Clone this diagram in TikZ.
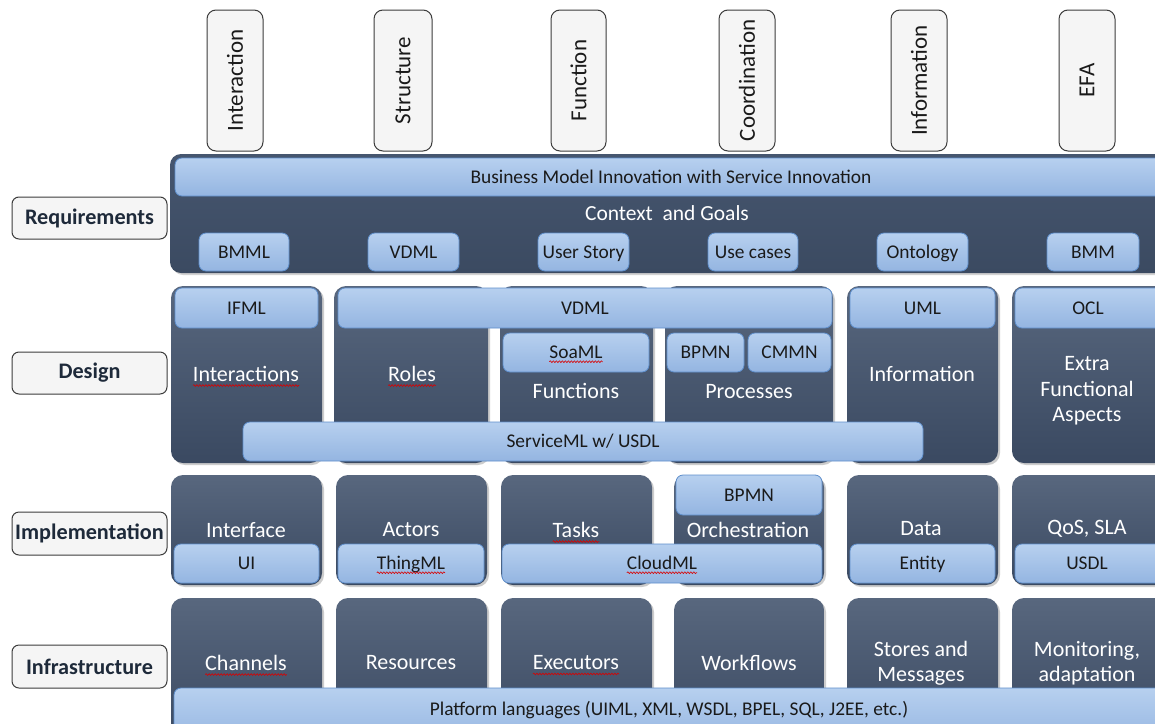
\documentclass[tikz,border=0pt]{standalone}
\usepackage{fontspec}
\setmainfont{Carlito}
\usetikzlibrary{fit,shadows,decorations.pathmorphing}

\definecolor{slateTop}{HTML}{58677E}
\definecolor{slateBot}{HTML}{3A4961}
\definecolor{reqTop}{HTML}{46566F}
\definecolor{reqBot}{HTML}{3B4A61}
\definecolor{blueTop}{HTML}{B7D0EF}
\definecolor{blueBot}{HTML}{94B5E1}
\definecolor{blueEdge}{HTML}{5E8ECB}
\definecolor{tagFill}{HTML}{F5F5F5}
\definecolor{tagEdge}{HTML}{3C3C3C}
\definecolor{inkDark}{HTML}{1A1A1A}
\definecolor{inkNavy}{HTML}{1E2A3A}

\begin{document}
\begin{tikzpicture}[x=1pt,y=-1pt,
  every node/.style={inner sep=0pt, outer sep=0pt},
  coltag/.style={draw=tagEdge, line width=1pt, fill=tagFill, rounded corners=9pt},
  coltext/.style={rotate=90, text=inkDark, font=\fontsize{23}{26}\selectfont},
  layertag/.style={draw=tagEdge, line width=1pt, fill=tagFill, rounded corners=7pt},
  layertext/.style={text=inkNavy, font=\bfseries\fontsize{22.2}{26}\selectfont},
  reqblock/.style={top color=reqTop, bottom color=reqBot, rounded corners=11pt,
    drop shadow={shadow xshift=2pt, shadow yshift=-2pt, opacity=0.35}},
  darkbox/.style={top color=slateTop, bottom color=slateBot, rounded corners=12pt,
    drop shadow={shadow xshift=2pt, shadow yshift=-2pt, opacity=0.4}},
  bluebox/.style={top color=blueTop, bottom color=blueBot, draw=blueEdge, line width=0.8pt,
    rounded corners=7pt},
  btxt/.style={text=inkDark, font=\fontsize{19.4}{22}\selectfont,
    text height=12.4pt, text depth=0pt},
  wtxt/.style={text=white, align=center, font=\fontsize{22}{25.5}\selectfont},
  squig/.style={draw=red!85!black, line width=0.6pt,
    decorate, decoration={snake, amplitude=0.9pt, segment length=3pt}}
]
\clip (0,0) rectangle (1155,723);
\fill[white] (0,0) rectangle (1155,723);

% ---------- column headings ----------
\node[coltag, fit={(207,10)(263,151)}] (cInter) {};
\node[coltext] (tInter) at (cInter.center) {Interaction};
\node[coltag, fit={(374,10)(432,151)}] (cStruct) {};
\node[coltext] (tStruct) at (cStruct.center) {Structure};
\node[coltag, fit={(551,10)(606,151)}] (cFunc) {};
\node[coltext] (tFunc) at (cFunc.center) {Function};
\node[coltag, fit={(719,10)(775,151)}] (cCoord) {};
\node[coltext] (tCoord) at (cCoord.center) {Coordination};
\node[coltag, fit={(891,10)(947,151)}] (cInfo) {};
\node[coltext] (tInfo) at (cInfo.center) {Information};
\node[coltag, fit={(1059,10)(1115,151)}] (cEfa) {};
\node[coltext] (tEfa) at (cEfa.center) {EFA};

% ---------- layer headings ----------
\node[layertag, fit={(12,197)(167,239)}] (lReq) {};
\node[layertext] (tReq) at (lReq.center) {Requirements};
\node[layertag, fit={(12,352)(167,394)}] (lDes) {};
\node[layertext] (tDes) at (lDes.center) {Design};
\node[layertag, fit={(12,512)(167,555)}] (lImp) {};
\node[layertext] (tImp) at (lImp.center) {Implementation};
\node[layertag, fit={(12,645)(167,688)}] (lInf) {};
\node[layertext] (tInf) at (lInf.center) {Infrastructure};

% ---------- requirements layer ----------
\node[reqblock, fit={(170,154)(1180,273)}] (req) {};
\node[bluebox, fit={(175,158)(1180,196)}] (bmi) {};
\node[btxt] (tBmi) at (671,177) {Business Model Innovation with Service Innovation};
\node[wtxt, font=\fontsize{21.5}{25}\selectfont] (tCtx) at (667,213) {Context\ \ and Goals};
\node[bluebox, fit={(199,233)(289,271)}] (rBmml) {};
\node[btxt] (tBmml) at (rBmml.center) {BMML};
\node[bluebox, fit={(368,233)(459,271)}] (rVdml) {};
\node[btxt] (tVdml) at (rVdml.center) {VDML};
\node[bluebox, fit={(538,233)(629,271)}] (rStory) {};
\node[btxt] (tStory) at (rStory.center) {User Story};
\node[bluebox, fit={(708,233)(798,271)}] (rUse) {};
\node[btxt] (tUse) at (rUse.center) {Use cases};
\node[bluebox, fit={(877,233)(968,271)}] (rOnto) {};
\node[btxt] (tOnto) at (rOnto.center) {Ontology};
\node[bluebox, fit={(1047,233)(1139,271)}] (rBmm) {};
\node[btxt] (tBmm) at (rBmm.center) {BMM};

% ---------- design layer ----------
\node[darkbox, fit={(171,286)(322,463)}] (dInter) {};
\node[darkbox, fit={(334,286)(488,463)}] (dRoles) {};
\node[darkbox, fit={(500,286)(653,463)}] (dFunc) {};
\node[darkbox, fit={(665,286)(833,463)}] (dProc) {};
\node[darkbox, fit={(847,286)(998,463)}] (dInfo) {};
\node[darkbox, fit={(1012,286)(1180,463)}] (dEfa) {};
\node[bluebox, fit={(175,288)(318,328)}] (dIfml) {};
\node[btxt] (tIfml) at (dIfml.center) {IFML};
\node[bluebox, fit={(338,288)(832,328)}] (dVdml) {};
\node[btxt] (tDVdml) at (dVdml.center) {VDML};
\node[bluebox, fit={(503,333)(649,372)}] (dSoa) {};
\node[btxt] (tSoa) at (dSoa.center) {SoaML};
\node[bluebox, fit={(667,333)(744,372)}] (dBpmn) {};
\node[btxt] (tDBpmn) at (dBpmn.center) {BPMN};
\node[bluebox, fit={(748,333)(831,372)}] (dCmmn) {};
\node[btxt] (tCmmn) at (dCmmn.center) {CMMN};
\node[bluebox, fit={(850,288)(995,328)}] (dUml) {};
\node[btxt] (tUml) at (dUml.center) {UML};
\node[bluebox, fit={(1015,288)(1180,328)}] (dOcl) {};
\node[btxt] (tOcl) at (1088,308) {OCL};
\node[wtxt] (tInteractions) at (246,374) {Interactions};
\node[wtxt] (tRoles) at (412,374) {Roles};
\node[wtxt] (tFunctions) at (576,391) {Functions};
\node[wtxt] (tProcesses) at (749,392) {Processes};
\node[wtxt] (tInformation) at (922,374) {Information};
\node[wtxt] (tExtra) at (1087,391) {Extra\\Functional\\Aspects};
\node[bluebox, fit={(243,422)(923,461)}] (dSvc) {};
\node[btxt] (tSvc) at (dSvc.center) {ServiceML w/ USDL};

% ---------- implementation layer ----------
\node[darkbox, fit={(171,475)(322,585)}] (iIface) {};
\node[darkbox, fit={(336,475)(487,585)}] (iActors) {};
\node[darkbox, fit={(501,475)(652,585)}] (iTasks) {};
\node[darkbox, fit={(674,475)(824,585)}] (iOrch) {};
\node[darkbox, fit={(847,475)(998,585)}] (iData) {};
\node[darkbox, fit={(1012,475)(1180,585)}] (iQos) {};
\node[bluebox, fit={(676,475)(822,515)}] (iBpmn) {};
\node[btxt] (tIBpmn) at (iBpmn.center) {BPMN};
\node[wtxt] (tIface) at (246,530) {Interface};
\node[wtxt] (tActors) at (411,530) {Actors};
\node[wtxt] (tTasks) at (576,530) {Tasks};
\node[wtxt] (tOrch) at (748,530) {Orchestration};
\node[wtxt] (tData) at (921,529) {Data};
\node[wtxt] (tQos) at (1087,529) {QoS, SLA};
\node[bluebox, fit={(174,544)(319,583)}] (iUi) {};
\node[btxt] (tUi) at (iUi.center) {UI};
\node[bluebox, fit={(338,544)(484,583)}] (iThing) {};
\node[btxt] (tThing) at (iThing.center) {ThingML};
\node[bluebox, fit={(502,544)(822,583)}] (iCloud) {};
\node[btxt] (tCloud) at (iCloud.center) {CloudML};
\node[bluebox, fit={(850,544)(995,583)}] (iEntity) {};
\node[btxt] (tEntity) at (iEntity.center) {Entity};
\node[bluebox, fit={(1015,544)(1180,583)}] (iUsdl) {};
\node[btxt] (tUsdl) at (1087,563) {USDL};

% ---------- infrastructure layer ----------
\node[darkbox, fit={(171,598)(322,745)}] (fChan) {};
\node[darkbox, fit={(336,598)(487,745)}] (fRes) {};
\node[darkbox, fit={(501,598)(652,745)}] (fExec) {};
\node[darkbox, fit={(674,598)(824,745)}] (fWork) {};
\node[darkbox, fit={(847,598)(998,745)}] (fStore) {};
\node[darkbox, fit={(1012,598)(1180,745)}] (fMon) {};
\node[wtxt] (tChan) at (246,663) {Channels};
\node[wtxt] (tRes) at (411,663) {Resources};
\node[wtxt] (tExec) at (576,663) {Executors};
\node[wtxt] (tWork) at (749,663) {Workflows};
\node[wtxt] (tStore) at (921,663) {Stores and\\Messages};
\node[wtxt] (tMon) at (1087,663) {Monitoring,\\adaptation};
\node[bluebox, fit={(174,688)(1180,745)}] (fPlat) {};
\node[btxt] (tPlat) at (669,709) {Platform languages (UIML, XML, WSDL, BPEL, SQL, J2EE, etc.)};

% ---------- spell-check marks under some words ----------
\foreach \w in {tInteractions,tRoles,tTasks,tChan,tExec}
  \draw[squig] ([yshift=-4pt]\w.base west) -- ([yshift=-4pt]\w.base east);
\foreach \w in {tSoa,tThing,tCloud}
  \draw[squig] ([yshift=-3pt]\w.base west) -- ([yshift=-3pt]\w.base east);
\end{tikzpicture}
\end{document}
